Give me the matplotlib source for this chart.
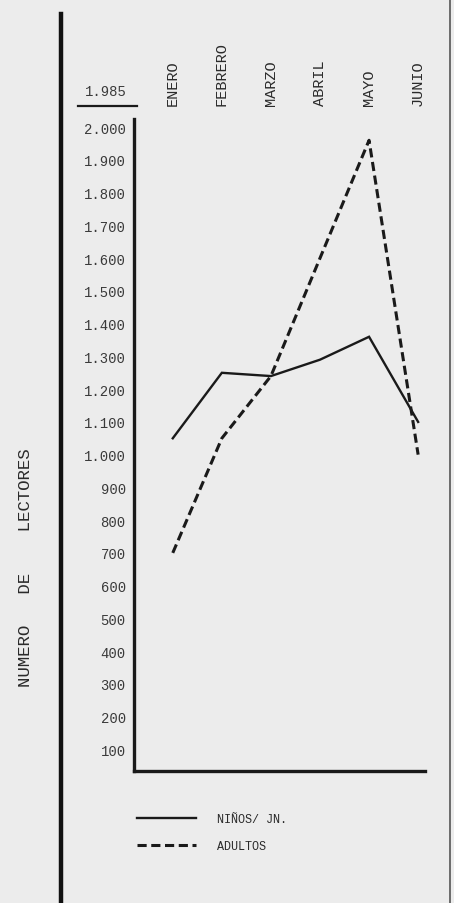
import matplotlib
matplotlib.use("Agg")
import matplotlib.pyplot as plt
from matplotlib.lines import Line2D
from matplotlib.transforms import blended_transform_factory

# ---- data ----
months = ["ENERO", "FEBRERO", "MARZO", "ABRIL", "MAYO", "JUNIO"]
ninos = [1050, 1250, 1240, 1290, 1360, 1100]
adultos = [700, 1050, 1240, 1600, 1960, 1000]
y_ticks = [100, 200, 300, 400, 500, 600, 700, 800, 900, 1000,
           1100, 1200, 1300, 1400, 1500, 1600, 1700, 1800, 1900, 2000]
y_tick_labels = ["100", "200", "300", "400", "500", "600", "700", "800", "900",
                 "1.000", "1.100", "1.200", "1.300", "1.400", "1.500",
                 "1.600", "1.700", "1.800", "1.900", "2.000"]
year_label = "1.985"
y_title = "NUMERO   DE    LECTORES"
series_names = ["NIÑOS/ JN.", "ADULTOS"]

W, H = 454, 904
INK = "#1a1a1a"
PAPER = "#ececec"
MONO = ["Liberation Mono", "DejaVu Sans Mono"]

fig = plt.figure(figsize=(W / 100, H / 100), dpi=100, facecolor=PAPER)
ax = fig.add_axes([134 / W, 1 - 772 / H, (425 - 134) / W, (772 - 120) / H])
ax.set_facecolor(PAPER)

x = list(range(len(months)))
l1, = ax.plot(x, ninos, color=INK, lw=1.7, solid_joinstyle="miter")
l2, = ax.plot(x, adultos, color=INK, lw=2.2, linestyle=(0, (3.0, 1.5)))

ax.set_xlim(-0.79, 5.14)
ax.set_ylim(34, 2025)

for s in ["top", "right"]:
    ax.spines[s].set_visible(False)
for s in ["left", "bottom"]:
    ax.spines[s].set_linewidth(2.4)
    ax.spines[s].set_color(INK)

ax.set_xticks([])
ax.set_yticks(y_ticks)
ax.set_yticklabels(y_tick_labels, family=MONO, fontsize=10, color="#3a3a3a")
ax.tick_params(axis="y", length=0, pad=6)

# month labels at top (vertical)
tr = blended_transform_factory(ax.transData, fig.transFigure)
for i, m in enumerate(months):
    ax.text(i, 1 - 106 / H, m, transform=tr, rotation=90, ha="center", va="bottom",
            family=MONO, fontsize=11, color="#2a2a2a")

# year label with underline
fig.text(106 / W, 1 - 92 / H, year_label, ha="center", va="center",
         family=MONO, fontsize=10, color="#3a3a3a")
fig.add_artist(Line2D([78 / W, 137 / W], [1 - 107 / H, 1 - 107 / H],
                      transform=fig.transFigure, color=INK, lw=1.6))

# y title
fig.text(26 / W, 1 - 568 / H, y_title, rotation=90, ha="center", va="center",
         family=MONO, fontsize=12.5, color="#2a2a2a")

# page borders
fig.add_artist(Line2D([61 / W, 61 / W], [1 - 15 / H, 0], transform=fig.transFigure,
                      color="#111111", lw=3.2))
fig.add_artist(Line2D([450 / W, 450 / W], [1, 0], transform=fig.transFigure,
                      color="#555555", lw=1.2))

# legend
leg = ax.legend([l1, l2], series_names, loc="upper left",
                bbox_to_anchor=(137 / W, 1 - 814 / H), bbox_transform=fig.transFigure,
                frameon=False, prop={"family": MONO, "size": 8.5},
                handlelength=5.0, handletextpad=1.8, labelspacing=1.3,
                borderpad=0, borderaxespad=0)
for t in leg.get_texts():
    t.set_color("#2a2a2a")

fig.savefig("out.png", dpi=100, facecolor=PAPER)
